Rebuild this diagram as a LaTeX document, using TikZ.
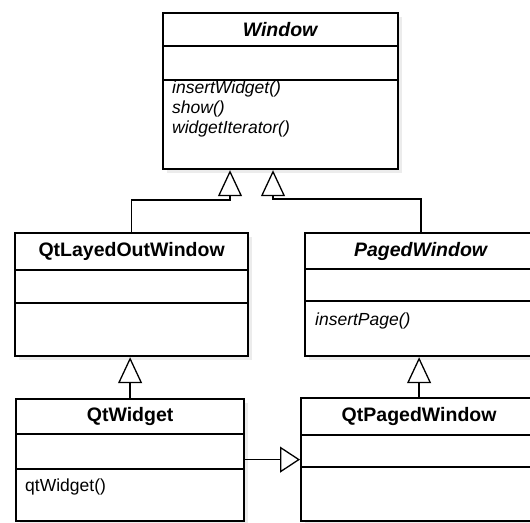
\documentclass[tikz,border=0pt]{standalone}
\usepackage{fontspec}
\setmainfont{Liberation Sans}
\usetikzlibrary{arrows.meta,positioning,shadows}

\newcommand\clsfont{\fontsize{19.5}{22}\selectfont\bfseries}
\newcommand\opfont{\fontsize{17.5}{20}\selectfont}

\begin{document}
\begin{tikzpicture}[x=1pt,y=-1pt,
  box/.style={draw=black,line width=2.2pt,fill=white,inner sep=0pt,anchor=north west,drop shadow={shadow xshift=3.5pt,shadow yshift=-3.5pt,fill=black!15}},
  part/.style={box,below=-2.2pt of #1},
  optext/.style={inner sep=0pt,align=left,font=\opfont},
  inh/.style={line width=1.3pt,-{Triangle[length=26pt,width=24pt,fill=white]}}]
\useasboundingbox (0,0) rectangle (530,522);
\clip (0,0) rectangle (530,522);

% Window
\node[box,minimum width=235pt,minimum height=33pt,font=\clsfont] (win) at (162,12) {\textit{Window}};
\node[part=win,minimum width=235pt,minimum height=34pt] (winAttr) {};
\node[part=winAttr,minimum width=235pt,minimum height=89pt] (winOps) {};
\node[optext,below right=2pt and 10pt of winOps.north west] (winOpsTxt) {\textit{insertWidget()}\\\textit{show()}\\\textit{widgetIterator()}};

% QtLayedOutWindow
\node[box,minimum width=233pt,minimum height=37pt,font=\clsfont] (lay) at (14,232) {QtLayedOutWindow};
\node[part=lay,minimum width=233pt,minimum height=33pt] (layAttr) {};
\node[part=layAttr,minimum width=233pt,minimum height=53pt] (layOps) {};

% PagedWindow
\node[box,minimum width=232pt,minimum height=36pt,font=\clsfont] (pag) at (304,232) {\textit{PagedWindow}};
\node[part=pag,minimum width=232pt,minimum height=32pt] (pagAttr) {};
\node[part=pagAttr,minimum width=232pt,minimum height=55pt] (pagOps) {};
\node[optext,below right=13pt and 11pt of pagOps.north west] (pagOpsTxt) {\textit{insertPage()}};

% QtWidget
\node[box,minimum width=228pt,minimum height=35pt,font=\clsfont] (qtw) at (15,398) {QtWidget};
\node[part=qtw,minimum width=228pt,minimum height=35pt] (qtwAttr) {};
\node[part=qtwAttr,minimum width=228pt,minimum height=52pt] (qtwOps) {};
\node[optext,below right=11pt and 10pt of qtwOps.north west] (qtwOpsTxt) {qtWidget()};

% QtPagedWindow
\node[box,minimum width=236pt,minimum height=37pt,font=\clsfont] (qpw) at (300,397) {QtPagedWindow};
\node[part=qpw,minimum width=236pt,minimum height=32pt] (qpwAttr) {};
\node[part=qpwAttr,minimum width=236pt,minimum height=54pt] (qpwOps) {};

% generalisations
\coordinate (jl) at (230,200);
\coordinate (jp) at (273,199);
\draw[inh] (lay.north) |- (jl) -- (jl |- winOps.south);
\draw[inh] (pag.north) |- (jp) -- (jp |- winOps.south);
\draw[inh] (qtw.north) -- (qtw.north |- layOps.south);
\draw[inh] (qpw.north) -- (qpw.north |- pagOps.south);
\draw[line width=1.3pt,-{Triangle[length=20pt,width=26pt,fill=white]}] ([yshift=-8pt]qtwAttr.east) -- ([yshift=-8pt]qtwAttr.east -| qpwAttr.west);
\end{tikzpicture}
\end{document}
